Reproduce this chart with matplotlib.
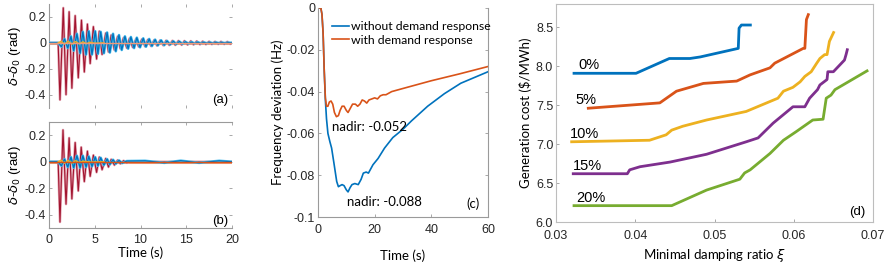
import matplotlib
matplotlib.use("Agg")
import matplotlib.pyplot as plt

# ---- panel (a): rotor angle swing, extreme points ----
a_red_t = [0, 1.0, 1.2, 1.56, 1.86, 2.2, 2.5, 2.86, 3.2, 3.55, 3.86, 4.2, 4.5, 4.85, 5.2, 5.5, 5.8, 6.2,
           6.5, 6.8, 7.15, 7.5, 7.8, 8.15, 8.5, 8.8, 9.15, 9.5, 9.8, 10.15, 10.5, 10.8, 11.15, 11.5, 11.8,
           12.15, 12.5, 12.8, 13.15, 13.5, 13.8, 14.15, 14.5, 14.8, 15.15, 15.5, 15.8, 16.15, 16.5, 16.8,
           17.15, 17.5, 17.8, 18.15, 18.5, 18.8, 19.15, 19.5, 19.8, 20]
a_red_v = [0, 0, -0.44, 0.27, -0.40, 0.24, -0.35, 0.21, -0.27, 0.175, -0.225, 0.145, -0.16, 0.125, -0.125,
           0.09, -0.09, 0.075, -0.07, 0.06, -0.055, 0.05, -0.045, 0.04, -0.04, 0.035, -0.035, 0.03, -0.03,
           0.028, -0.028, 0.025, -0.025, 0.022, -0.022, 0.02, -0.02, 0.018, -0.018, 0.017, -0.017, 0.016,
           -0.016, 0.015, -0.015, 0.014, -0.014, 0.013, -0.013, 0.012, -0.012, 0.011, -0.011, 0.01, -0.01,
           0.01, -0.01, 0.009, -0.009, 0]
a_blue_t = [0, 1.0, 1.35, 1.7, 2.05, 2.4, 2.7, 3.05, 3.4, 3.7, 4.05, 4.35, 4.7, 5.05, 5.35, 5.65, 6.0, 6.35,
            6.65, 7.0, 7.3, 7.65, 7.95, 8.3, 8.65, 8.95, 9.3, 9.6, 9.95, 10.3, 10.6, 10.95, 11.25, 11.6,
            11.9, 12.25, 12.6, 12.9, 13.25, 13.6, 13.9, 14.25, 14.6, 14.9, 15.25, 15.6, 15.9, 16.25, 16.6,
            16.9, 17.25, 17.6, 17.9, 18.25, 18.6, 18.9, 19.25, 19.6, 20]
a_blue_v = [0, 0, -0.03, 0.03, -0.04, 0.05, -0.06, 0.07, -0.08, 0.085, -0.09, 0.09, -0.09, 0.09, -0.085,
            0.085, -0.08, 0.08, -0.075, 0.07, -0.065, 0.06, -0.055, 0.05, -0.045, 0.045, -0.04, 0.04,
            -0.035, 0.035, -0.03, 0.03, -0.025, 0.025, -0.02, 0.02, -0.018, 0.015, -0.013, 0.012, -0.01,
            0.01, -0.008, 0.008, -0.006, 0.006, -0.005, 0.005, -0.004, 0.004, -0.003, 0.003, -0.003, 0.003,
            -0.002, 0.002, -0.002, 0.002, 0]
a_yel_t = [1.0, 1.3, 1.7, 2.1, 2.5, 2.9, 3.3, 3.7, 4.1, 4.5, 5.0, 6.0]
a_yel_v = [0, 0.012, -0.01, 0.012, -0.01, 0.01, -0.008, 0.008, -0.006, 0.005, -0.003, 0]

# ---- panel (b) ----
b_red_t = [0, 1.0, 1.2, 1.53, 1.86, 2.2, 2.5, 2.86, 3.2, 3.52, 3.86, 4.2, 4.5, 4.85, 5.2, 5.5, 5.8, 6.2,
           6.5, 6.8, 7.15, 7.5, 7.8, 8.15, 8.5, 9.0, 10, 20]
b_red_v = [0, 0, -0.455, 0.24, -0.32, 0.18, -0.28, 0.145, -0.22, 0.11, -0.15, 0.08, -0.11, 0.05, -0.08,
           0.035, -0.06, 0.025, -0.04, 0.018, -0.025, 0.012, -0.015, 0.008, -0.008, 0.004, 0, 0]
b_blue_t = [0, 1.0, 1.35, 1.7, 2.05, 2.4, 2.7, 3.05, 3.4, 3.7, 4.05, 4.35, 4.7, 5.05, 5.35, 5.65, 6.0, 6.35,
            6.65, 7.0, 7.3, 7.65, 8.0, 8.5, 10.5, 12.6, 14.4, 16.4, 18.6, 20]
b_blue_v = [0, 0, -0.03, 0.02, -0.04, 0.035, -0.045, 0.045, -0.045, 0.045, -0.04, 0.04, -0.035, 0.035,
            -0.03, 0.03, -0.025, 0.02, -0.02, 0.015, -0.015, 0.01, -0.01, 0.005, 0.007, -0.008, 0.008,
            -0.008, 0.007, 0]
b_yel_t = [1.0, 1.3, 1.7, 2.1, 2.5, 2.9, 3.3, 3.7, 4.5, 6.0]
b_yel_v = [0, 0.012, -0.012, 0.01, -0.01, 0.008, -0.006, 0.004, -0.002, 0]
flat_t = [0, 20]
flat_v = [0, 0]

# ---- panel (c): frequency deviation ----
c_wo_t = [0, 1.0, 1.4, 1.8, 2.2, 2.6, 3.0, 3.5, 4.2, 4.8, 5.6, 6.6, 7.2, 7.8, 8.5, 9.2, 10.0, 10.6, 11.3,
          12.0, 13.0, 14.2, 15.2, 16.0, 17.0, 17.8, 18.6, 19.4, 21.2, 23.5, 26.4, 30, 33, 38.7, 44.6,
          50.4, 60]
c_wo_v = [0, 0, -0.003, -0.012, -0.03, -0.044, -0.053, -0.060, -0.064, -0.067, -0.074, -0.083, -0.0855,
          -0.085, -0.0845, -0.085, -0.087, -0.088, -0.086, -0.0845, -0.084, -0.0845, -0.082, -0.079,
          -0.0785, -0.079, -0.077, -0.075, -0.072, -0.067, -0.062, -0.058, -0.054, -0.047, -0.041,
          -0.036, -0.0305]
c_w_t = [0, 1.0, 1.4, 1.8, 2.2, 2.6, 3.0, 3.5, 4.0, 4.6, 5.2, 5.8, 6.5, 7.2, 7.8, 8.5, 9.2, 10.0, 10.6,
         11.4, 12.2, 13.2, 14.0, 14.8, 15.6, 16.4, 17.2, 18.0, 19.0, 20.0, 21.0, 22.0, 23.0, 24, 26, 30,
         40, 50, 60]
c_w_v = [0, 0, -0.003, -0.012, -0.03, -0.043, -0.047, -0.047, -0.045, -0.0445, -0.046, -0.050, -0.052,
         -0.0515, -0.049, -0.047, -0.047, -0.049, -0.050, -0.048, -0.046, -0.046, -0.047, -0.046, -0.044,
         -0.0445, -0.0455, -0.044, -0.0435, -0.043, -0.0435, -0.042, -0.0415, -0.0415, -0.040, -0.0385,
         -0.0348, -0.0315, -0.028]
c_labels = ["without demand response", "with demand response"]

# ---- panel (d): cost vs minimal damping ratio ----
d_labels = ["0%", "5%", "10%", "15%", "20%"]
d_x = [
    [0.0321, 0.0401, 0.0443, 0.0469, 0.0482, 0.0530, 0.0531, 0.0534, 0.0547],
    [0.0339, 0.0431, 0.0452, 0.0486, 0.0528, 0.0545, 0.0570, 0.0576, 0.0612, 0.0614, 0.0616, 0.0619],
    [0.0318, 0.0418, 0.0439, 0.0446, 0.0460, 0.0490, 0.0540, 0.0580, 0.0587, 0.0599, 0.0608, 0.0614,
     0.0622, 0.0629, 0.0633, 0.0639, 0.0642, 0.0645, 0.0651],
    [0.0320, 0.0390, 0.0393, 0.0406, 0.0444, 0.0490, 0.0540, 0.0555, 0.0574, 0.0599, 0.0614, 0.0620,
     0.0630, 0.0633, 0.0642, 0.0643, 0.0650, 0.0664, 0.0666, 0.0668],
    [0.0321, 0.0446, 0.0490, 0.0532, 0.0538, 0.0545, 0.0570, 0.0587, 0.0603, 0.0624, 0.0637, 0.0641,
     0.0647, 0.0652, 0.0694],
]
d_y = [
    [7.91, 7.91, 8.10, 8.10, 8.12, 8.23, 8.49, 8.53, 8.53],
    [7.46, 7.53, 7.68, 7.78, 7.81, 7.89, 7.98, 8.04, 8.23, 8.23, 8.60, 8.68],
    [7.03, 7.05, 7.12, 7.18, 7.23, 7.31, 7.42, 7.59, 7.68, 7.73, 7.80, 7.87, 7.93, 8.04, 8.10, 8.15,
     8.15, 8.32, 8.45],
    [6.62, 6.62, 6.67, 6.71, 6.77, 6.87, 7.03, 7.08, 7.27, 7.48, 7.48, 7.59, 7.70, 7.76, 7.83, 7.93,
     7.93, 8.08, 8.15, 8.23],
    [6.21, 6.21, 6.41, 6.55, 6.63, 6.67, 6.88, 7.05, 7.16, 7.31, 7.32, 7.59, 7.63, 7.70, 7.95],
]
# where the percentage labels start (x of the label's left edge)
d_lab_x = [0.0328, 0.0324, 0.0318, 0.0321, 0.0326]

BLUE = "#0072BD"
ORANGE = "#D95319"
YELLOW = "#EDB120"
PURPLE = "#7E2F8E"
GREEN = "#77AC30"
DRED = "#A2142F"
LBLUE = "#4DBEEE"
SPINE = "#9a9a9a"
TICKF = "Liberation Sans"
LABF = "Lato"

W, H = 886, 265
fig = plt.figure(figsize=(W / 100, H / 100), dpi=100)


def add_ax(l, r, t, b):
    return fig.add_axes([l / W, (H - b) / H, (r - l) / W, (b - t) / H])


def style(ax, hide=()):
    for s in ax.spines.values():
        s.set_color(SPINE)
        s.set_linewidth(0.8)
    for s in hide:
        ax.spines[s].set_visible(False)
    ax.tick_params(direction="in", length=2.5, width=0.6, color=SPINE, labelsize=9,
                   labelcolor="#262626", pad=2, right=True, top=True)
    for lab in ax.get_xticklabels() + ax.get_yticklabels():
        lab.set_fontfamily(TICKF)


def swing(ax, rt, rv, bt, bv, yt, yv, tag, flatcol):
    ax.plot(flat_t, flat_v, color="#EE9A7A", lw=2.2, zorder=1)
    ax.plot(rt, rv, color="#E3A3B1", lw=1.8, zorder=2)
    ax.plot(rt, rv, color=DRED, lw=0.8, zorder=3)
    ax.plot(bt, bv, color=LBLUE, lw=1.9, zorder=4)
    ax.plot(bt, bv, color=BLUE, lw=0.9, zorder=5)
    ax.plot(yt, yv, color=YELLOW, lw=1.0, zorder=6)
    ax.plot(flat_t, flat_v, color=flatcol, lw=1.0, zorder=7)
    ax.set_xlim(0, 20)
    ax.set_ylim(-0.5, 0.3)
    ax.set_yticks([-0.4, -0.2, 0, 0.2])
    ax.set_yticklabels(["-0.4", "-0.2", "0", "0.2"])
    ax.set_xticks([0, 5, 10, 15, 20])
    ax.set_ylabel(r"$\delta$-$\delta_0$ (rad)", fontsize=9.5, fontfamily=TICKF, labelpad=1)
    ax.text(19.6, -0.445, tag, ha="right", va="center", fontsize=9.5, fontfamily=TICKF)


ax_a = add_ax(49, 232, 4, 107.6)
swing(ax_a, a_red_t, a_red_v, a_blue_t, a_blue_v, a_yel_t, a_yel_v, "(a)", "#EE9A7A")
ax_a.set_xticklabels([])
style(ax_a, hide=("top", "bottom", "right"))

ax_b = add_ax(49, 232, 122, 228)
swing(ax_b, b_red_t, b_red_v, b_blue_t, b_blue_v, b_yel_t, b_yel_v, "(b)", ORANGE)
ax_b.set_xlabel("Time (s)", fontsize=9.5, fontfamily=LABF, labelpad=1)
style(ax_b, hide=("right",))
ax_b.tick_params(axis="x", pad=4)

# panel (c)
ax_c = add_ax(318, 488, 8, 217)
ax_c.plot(c_wo_t, c_wo_v, color=BLUE, lw=1.2, label=c_labels[0])
ax_c.plot(c_w_t, c_w_v, color=ORANGE, lw=1.2, label=c_labels[1])
ax_c.set_xlim(0, 60)
ax_c.set_ylim(-0.1, 0)
ax_c.set_xticks([0, 20, 40, 60])
ax_c.set_yticks([-0.1, -0.08, -0.06, -0.04, -0.02, 0])
ax_c.set_yticklabels(["-0.1", "-0.08", "-0.06", "-0.04", "-0.02", "0"])
ax_c.set_xlabel("Time (s)", fontsize=9.5, fontfamily=LABF, labelpad=10)
ax_c.set_ylabel("Frequency deviation (Hz)", fontsize=9.5, fontfamily=LABF, labelpad=2)
leg = ax_c.legend(loc="upper left", bbox_to_anchor=(0.055, 0.96), frameon=False, handlelength=1.4,
                  handletextpad=0.15, labelspacing=0.2, borderaxespad=0,
                  prop={"family": LABF, "size": 8.8})
ax_c.text(4.9, -0.057, "nadir: -0.052", fontsize=9.5, fontfamily=LABF, va="center")
ax_c.text(10.2, -0.093, "nadir: -0.088", fontsize=9.5, fontfamily=LABF, va="center")
ax_c.text(57, -0.0935, "(c)", fontsize=9.5, fontfamily=LABF, va="center", ha="right")
style(ax_c, hide=("top",))
ax_c.tick_params(top=False)
ax_c.tick_params(axis="x", pad=5)

# panel (d)
ax_d = add_ax(556, 873, 4, 222)
d_cols = [BLUE, ORANGE, YELLOW, PURPLE, GREEN]
for xs, ys, col, lab, lx in zip(d_x, d_y, d_cols, d_labels, d_lab_x):
    ax_d.plot(xs, ys, color=col, lw=2.0, solid_capstyle="butt")
    ax_d.text(lx, ys[0] + 0.05, lab, fontsize=10.5, fontfamily=TICKF, va="baseline")
ax_d.set_xlim(0.03, 0.07)
ax_d.set_ylim(6.0, 8.8)
ax_d.set_xticks([0.03, 0.04, 0.05, 0.06, 0.07])
ax_d.set_xticklabels(["0.03", "0.04", "0.05", "0.06", "0.07"])
ax_d.set_yticks([6.0, 6.5, 7.0, 7.5, 8.0, 8.5])
ax_d.set_yticklabels(["6.0", "6.5", "7.0", "7.5", "8.0", "8.5"])
ax_d.set_xlabel(r"Minimal damping ratio $\xi$", fontsize=9.5, fontfamily=LABF, labelpad=3)
ax_d.set_ylabel("Generation cost ($/MWh)", fontsize=9.5, fontfamily=LABF, labelpad=3)
ax_d.text(0.0690, 6.13, "(d)", fontsize=9.5, fontfamily=TICKF, ha="right", va="center")
style(ax_d)
ax_d.tick_params(top=False, right=False)
ax_d.tick_params(axis="x", pad=6)
for s in ax_d.spines.values():
    s.set_color("#bdbdbd")

fig.savefig("out.png", dpi=100)
